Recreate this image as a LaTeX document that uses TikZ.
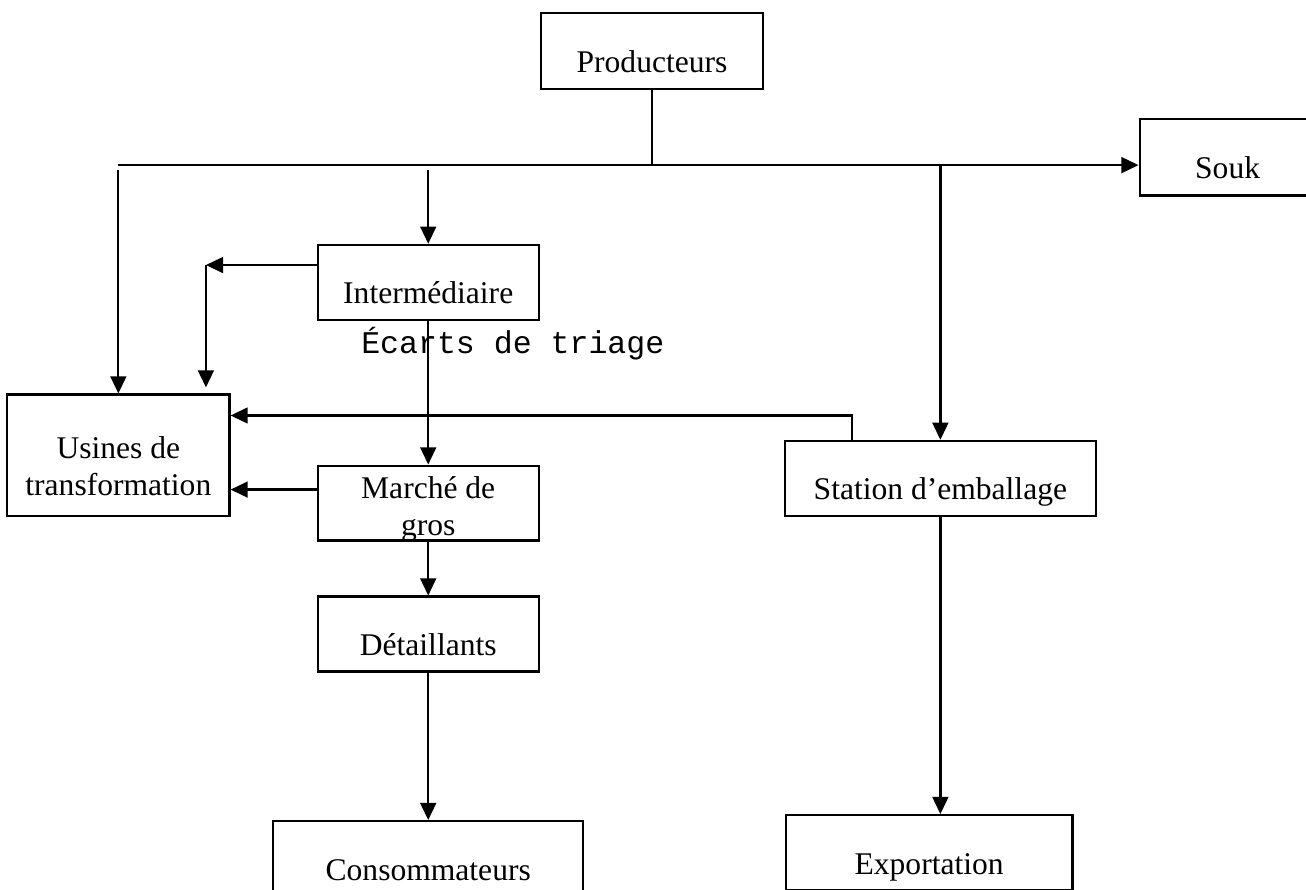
\documentclass[tikz,border=0pt]{standalone}
\usepackage{fontspec}
\setmainfont{Liberation Serif}
\newfontfamily\monofont{Liberation Mono}
\usepackage{tikz}
\usetikzlibrary{positioning, arrows.meta}

\begin{document}
\begin{tikzpicture}[
    node distance=1cm and 1cm,
    every node/.style={
        draw,
        align=center,
        font=\fontsize{12}{14}\selectfont,
        line width=0.85pt,
        minimum width=2.95cm,
        minimum height=1cm,
        inner sep=2pt,
        text height=16.3pt,
        text depth=0pt
    },
    arrow/.style={-{Triangle[length=6.5pt,width=6pt]}, line width=0.85pt},
    note/.style={draw=none, font=\monofont\fontsize{12}{14}\selectfont,
        minimum width=0pt, minimum height=0pt, inner sep=0pt,
        text height=, text depth=}
]
\useasboundingbox (-8.711,0.681) rectangle (8.737,-11.209);

% Top level
\node (prod) at (0,0) [minimum width=2.97cm, minimum height=1.02cm] {Producteurs};

\node (souk) [below right=0.37cm and 5.0cm of prod, minimum width=2.35cm, minimum height=1.02cm] {Souk};

% Local chain
\node (inter) [below left=2.05cm and 0cm of prod] {Intermédiaire};

\node (usines) [below left=0.97cm and 1.15cm of inter, minimum width=2.97cm, minimum height=1.62cm,
    text height=30.9pt, text depth=0pt] {Usines de\\transformation};

\node (marche) [below=1.92cm of inter, inner ysep=0pt, text height=24.4pt, text depth=0pt] {Marché de\\gros};

\node (detail) [below=0.72cm of marche] {Détaillants};

\node (conso) [below=1.97cm of detail, minimum width=4.14cm] {Consommateurs};

\node[note] (ecarts) at ([xshift=1.13cm,yshift=-0.30cm]inter.south) {Écarts de triage};

% Export chain
\node (station) [below right=4.67cm and 0.26cm of prod, minimum width=4.155cm] {Station d’emballage};

\node (export) [below=3.97cm of station, xshift=-0.15cm, minimum width=3.83cm] {Exportation};

% Distribution line
\coordinate (split) at ([yshift=-1cm]prod.south);
\coordinate (splitlow) at ([yshift=-0.06cm]split);
\draw[line width=0.85pt] (prod.south) -- (split);
\draw[arrow] (usines.north |- split) -- (split -| souk.west);
\draw[arrow] (usines.north |- splitlow) -- (usines.north);
\draw[arrow] (inter.north |- splitlow) -- (inter.north);
\draw[arrow] (station.north |- split) -- (station.north);

% Flows to the factories
\draw[arrow] ([yshift=0.23cm]inter.west) -- ++(-1.48cm,0) coordinate (coude);
\draw[arrow, shorten >=0.08cm] (coude) -- (coude |- usines.north);
\draw[arrow] ([xshift=-1.18cm]station.north) |- ([yshift=0.53cm]usines.east);
\draw[arrow] ([yshift=0.18cm]marche.west) -- ([yshift=0.18cm]marche.west -| usines.east);

% Downstream
\draw[arrow] (inter) -- (marche);
\draw[arrow] (marche) -- (detail);
\draw[arrow] (detail.south) -- (detail.south |- conso.north);
\draw[arrow] (station.south) -- (station.south |- export.north);

\end{tikzpicture}
\end{document}
